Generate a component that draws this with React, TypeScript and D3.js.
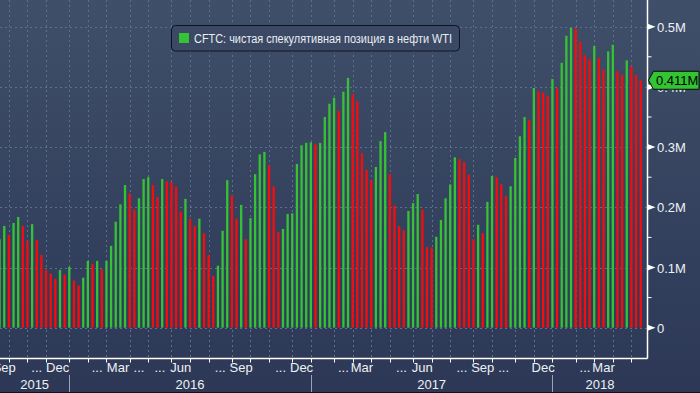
import React from "react";
import * as d3 from "d3";

// CFTC net speculative position in WTI, thousand contracts, weekly (Tuesdays)
const START = Date.UTC(2015, 8, 22);
const netLong = [
  147, 169, 154, 174, 184, 169, 144, 172, 146, 121, 96, 90, 81, 96, 88, 101,
  78, 70, 83, 111, 106, 111, 97, 111, 136, 176, 205, 237, 223, 196, 215, 247,
  250, 237, 217, 247, 243, 242, 234, 193, 214, 181, 169, 181, 157, 121, 86, 103,
  161, 245, 220, 181, 204, 147, 182, 255, 288, 292, 269, 235, 159, 164, 189, 190,
  272, 303, 307, 308, 305, 307, 350, 372, 382, 360, 392, 415, 388, 376, 290, 262,
  245, 267, 310, 325, 255, 203, 169, 162, 194, 207, 222, 196, 134, 133, 151, 179,
  215, 238, 283, 280, 275, 254, 147, 171, 157, 209, 252, 250, 238, 219, 235, 282,
  318, 350, 345, 398, 393, 391, 385, 413, 398, 440, 485, 498, 497, 475, 453, 446,
  468, 448, 428, 459, 470, 426, 420, 444, 434, 420, 411,
];

const yTicks = [0, 100, 200, 300, 400, 500];
const yTickLabels = ["0", "0.1M", "0.2M", "0.3M", "0.4M", "0.5M"];
const yMinorTicks = [50, 150, 250, 350, 450];

const monthLabels: [string, string][] = [
  ["2015-09", "Sep"], ["2015-11", "..."], ["2015-12", "Dec"],
  ["2016-02", "..."], ["2016-03", "Mar"], ["2016-04", "..."], ["2016-05", "..."],
  ["2016-06", "Jun"], ["2016-08", "..."], ["2016-09", "Sep"], ["2016-11", "..."],
  ["2016-12", "Dec"], ["2017-02", "..."], ["2017-03", "Mar"], ["2017-05", "..."],
  ["2017-06", "Jun"], ["2017-08", "..."], ["2017-09", "Sep"], ["2017-10", "..."],
  ["2017-12", "Dec"], ["2018-02", "..."], ["2018-03", "Mar"],
];
const yearLabels = ["2015", "2016", "2017", "2018"];

const legendText = "CFTC: чистая спекулятивная позиция в нефти WTI";
const lastLabel = "0.411M";

const W = 700;
const H = 393;
const plotRight = 647.5;
const axisY = 358.5;
const GREEN = "#35c235";
const RED = "#fa0b0b";
const GRID = "#58728e";
const FONT = "'Liberation Sans', Arial, sans-serif";

const dates = netLong.map((_, i) => d3.utcDay.offset(new Date(START), 7 * i));
const monthKey = (d: Date) => d3.utcFormat("%Y-%m")(d);

export default function App() {
  const x = d3
    .scaleUtc()
    .domain([dates[0], dates[dates.length - 1]])
    .range([-0.4, 640.7]);
  const y = d3.scaleLinear().domain([0, 500]).range([327.7, 26.7]);

  // first bar of every month / year
  const monthStarts = dates
    .map((d, i) => i)
    .filter((i) => i > 0 && dates[i].getUTCMonth() !== dates[i - 1].getUTCMonth());
  const yearStarts = dates
    .map((d, i) => i)
    .filter((i) => i > 0 && dates[i].getUTCFullYear() !== dates[i - 1].getUTCFullYear());

  const monthPos = monthLabels.map(([key, text]) => {
    const s = dates.findIndex((d) => monthKey(d) === key);
    const e = dates.findIndex((d, i) => i > s && monthKey(d) !== key);
    const xs = x(dates[s]);
    const xe = e < 0 ? x(dates[dates.length - 1]) : x(dates[e]);
    return { text, cx: (xs + xe) / 2 };
  });

  const yearPos = yearLabels.map((yr) => {
    const s = dates.findIndex((d) => String(d.getUTCFullYear()) === yr);
    const e = dates.findIndex((d, i) => i > s && String(d.getUTCFullYear()) !== yr);
    const xs = Math.max(0, x(dates[s]));
    const xe = e < 0 ? plotRight : x(dates[e]);
    return { text: yr, cx: (xs + xe) / 2 };
  });

  const lastY = y(netLong[netLong.length - 1]);
  const barW = 2.3;

  return (
    <div style={{ position: "absolute", left: 0, top: 0 }}>
      <svg width={W} height={H} style={{ display: "block", fontFamily: FONT }}>
        <defs>
          <linearGradient id="bg" x1="0" y1="0" x2="0" y2="1">
            <stop offset="0" stopColor="#3f4e69" />
            <stop offset="1" stopColor="#2c3856" />
          </linearGradient>
        </defs>
        <rect width={W} height={H} fill="url(#bg)" />

        {/* grid */}
        {yTicks.map((t) => (
          <line key={"h" + t} x1={0} x2={plotRight} y1={Math.round(y(t)) + 0.5} y2={Math.round(y(t)) + 0.5}
            stroke={GRID} strokeDasharray="2,3" />
        ))}
        {monthStarts.map((i) => (
          <line key={"v" + i} x1={Math.round(x(dates[i])) + 0.5} x2={Math.round(x(dates[i])) + 0.5} y1={0} y2={axisY}
            stroke={GRID} strokeDasharray="2,3" />
        ))}

        {/* bars */}
        {netLong.map((v, i) => (
          <rect key={i} x={x(dates[i]) - barW / 2} width={barW} y={y(v)} height={y(0) - y(v)}
            fill={i === 0 || v >= netLong[i - 1] ? GREEN : RED} />
        ))}

        {/* axes */}
        <line x1={0} x2={plotRight} y1={axisY} y2={axisY} stroke="#fff" strokeWidth={1.5} />
        <line x1={plotRight} x2={plotRight} y1={0} y2={axisY} stroke="#fff" strokeWidth={1.5} />
        {monthStarts.map((i) => (
          <line key={"mt" + i} x1={Math.round(x(dates[i])) + 0.5} x2={Math.round(x(dates[i])) + 0.5}
            y1={axisY} y2={axisY + 4} stroke="#fff" />
        ))}
        {yMinorTicks.map((t) => (
          <line key={"mn" + t} x1={plotRight} x2={plotRight + 4} y1={y(t)} y2={y(t)} stroke="#fff" />
        ))}
        {yTicks.map((t, k) => (
          <g key={"yt" + t}>
            <polygon points={`${plotRight},${y(t) - 3} ${plotRight + 8},${y(t)} ${plotRight},${y(t) + 3}`} fill="#fff" />
            <text x={657} y={y(t) + 5} fontSize={13} fill="#eef1f5">{yTickLabels[k]}</text>
          </g>
        ))}

        {/* x labels */}
        {monthPos.map((m, k) => (
          <text key={"ml" + k} x={m.cx} y={372} fontSize={13} fill="#eef1f5" textAnchor="middle">{m.text}</text>
        ))}
        {yearStarts.map((i) => (
          <line key={"ys" + i} x1={Math.round(x(dates[i])) + 0.5} x2={Math.round(x(dates[i])) + 0.5}
            y1={375} y2={H} stroke="#9aa2b4" />
        ))}
        {yearPos.map((yp) => (
          <text key={yp.text} x={yp.cx} y={389} fontSize={13} fill="#eef1f5" textAnchor="middle">{yp.text}</text>
        ))}
        <line x1={0} x2={W} y1={H - 0.5} y2={H - 0.5} stroke="#111" />

        {/* last value tag */}
        <polygon
          points={`${plotRight + 1},${lastY} ${653.5},${lastY - 9} ${699},${lastY - 9} ${699},${lastY + 9} ${653.5},${lastY + 9}`}
          fill="#33c433" stroke="#0a0a0a" strokeWidth={1} />
        <text x={656} y={lastY + 5} fontSize={13} fill="#000">{lastLabel}</text>

        {/* legend */}
        <rect x={171.5} y={25.5} width={288} height={25.5} rx={4} fill="#3b4964" stroke="#0e1320" />
        <rect x={179} y={33} width={10} height={10} fill={GREEN} />
        <text x={194} y={42.5} fontSize={12} fill="#e9edf3" textLength={258} lengthAdjust="spacingAndGlyphs">
          {legendText}
        </text>
      </svg>
    </div>
  );
}
